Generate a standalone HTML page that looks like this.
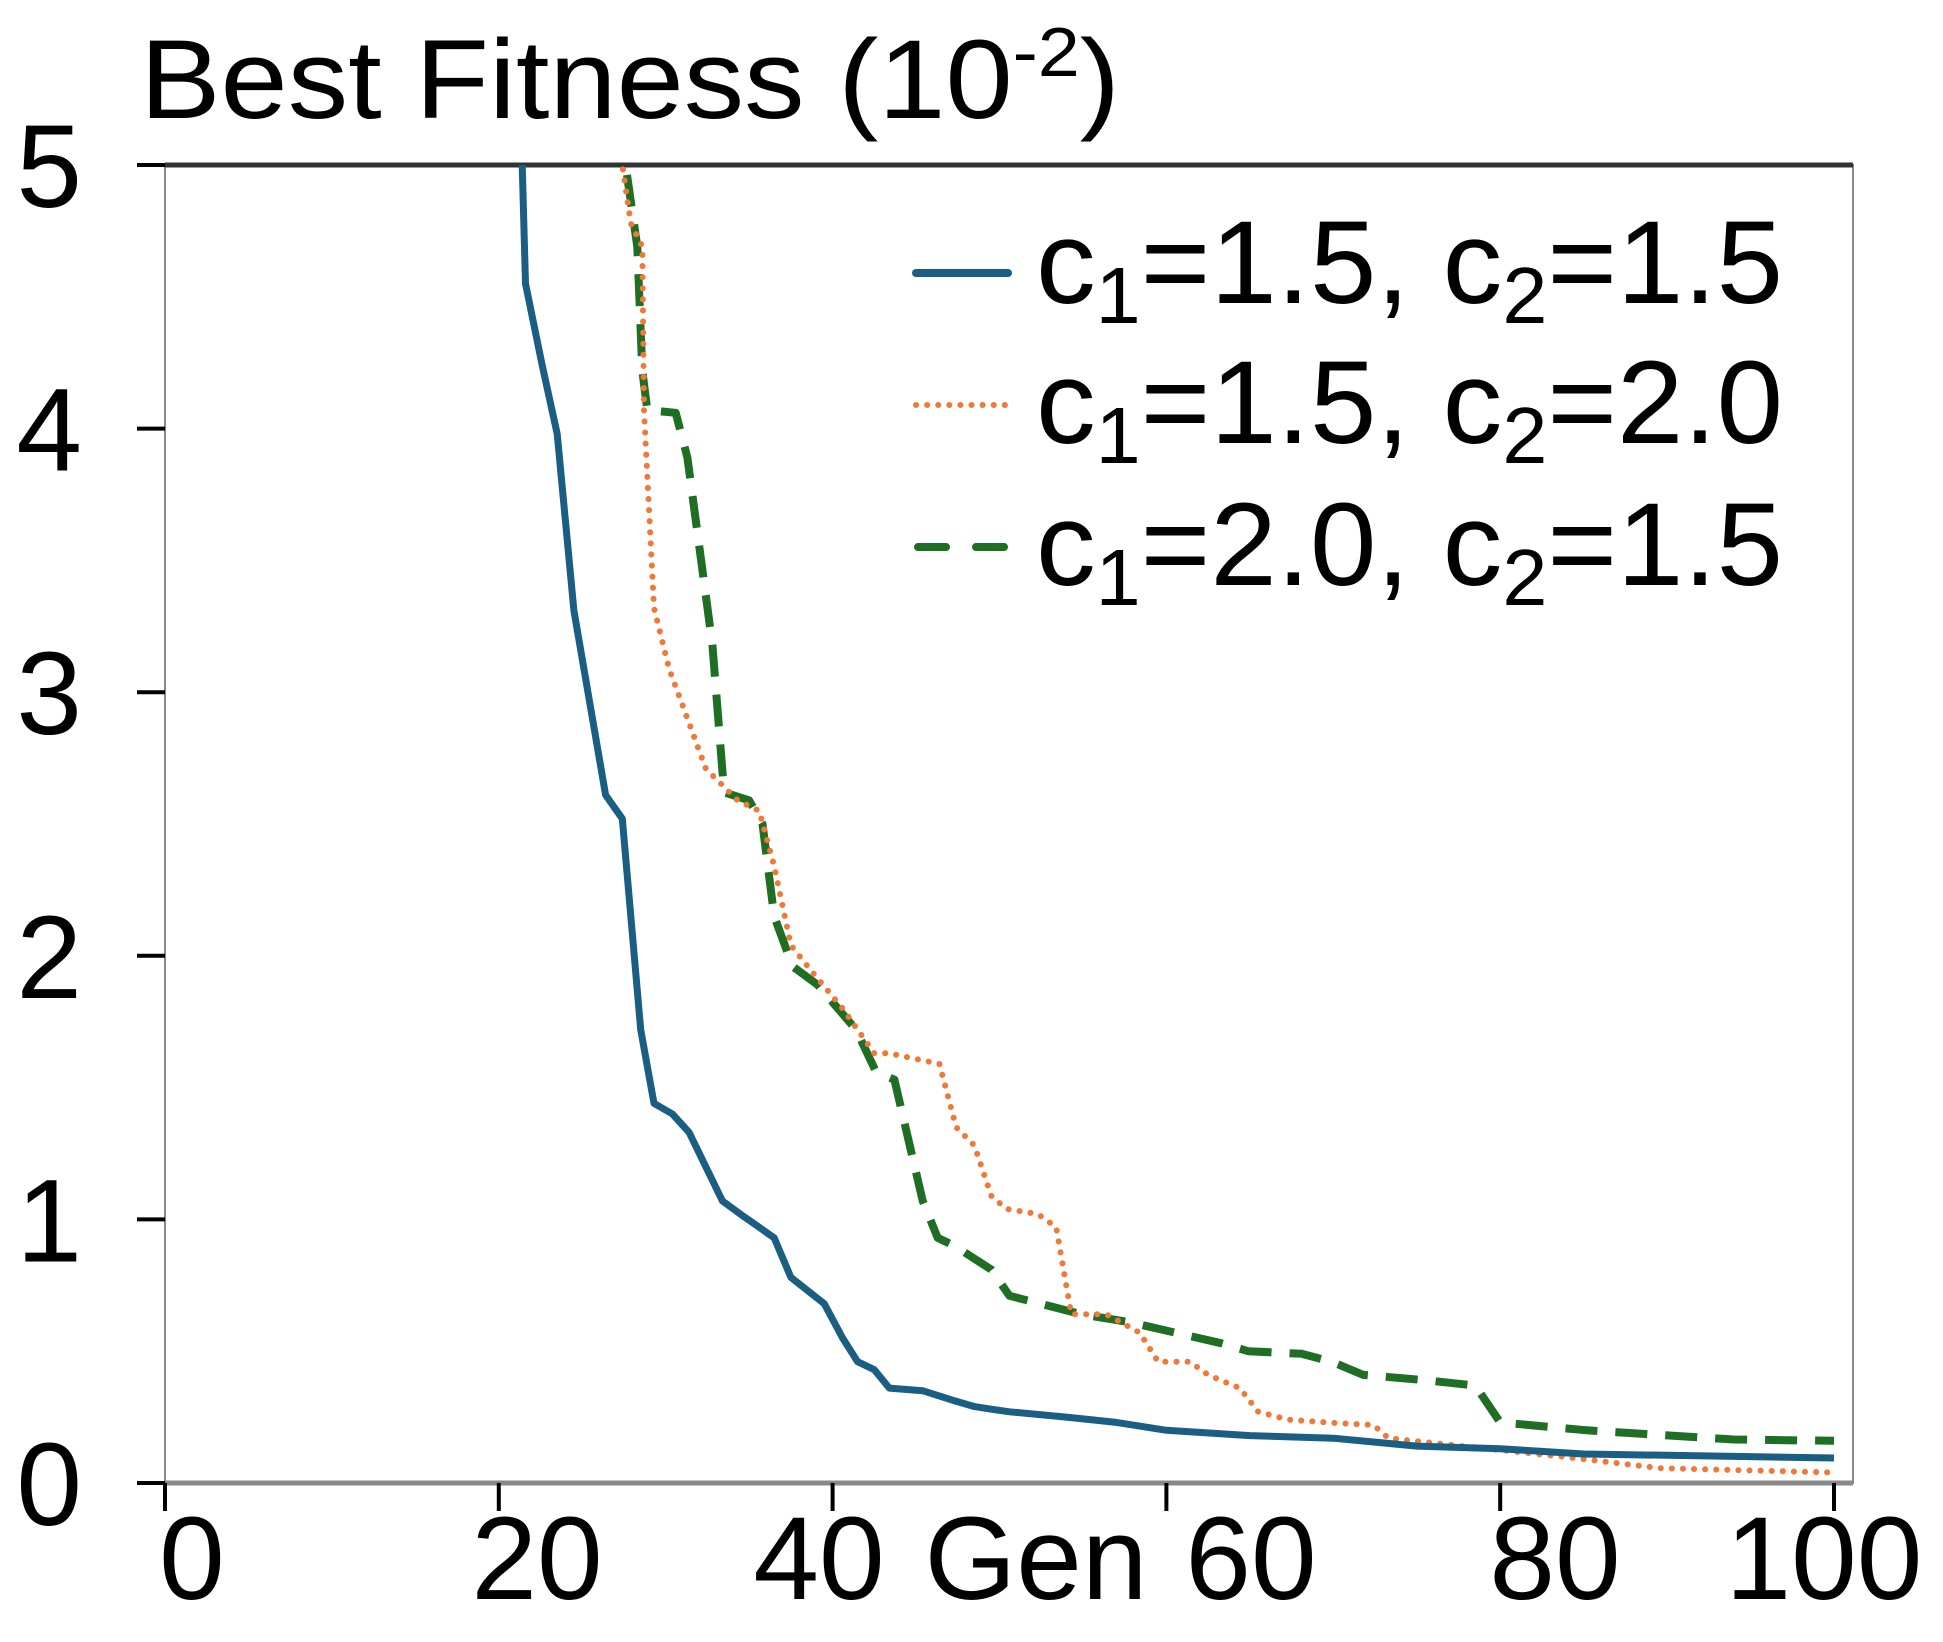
<!DOCTYPE html>
<html><head><meta charset="utf-8"><style>
html,body{margin:0;padding:0;background:#fff;}
svg{display:block;font-family:"Liberation Sans",Arial,sans-serif;}
</style></head><body>
<svg id="chart" width="1943" height="1642" viewBox="0 0 1943 1642" xmlns="http://www.w3.org/2000/svg">
<defs><clipPath id="plotclip"><rect x="165" y="165" width="1688" height="1318"/></clipPath></defs>
<rect x="0" y="0" width="1943" height="1642" fill="#fff"/>
<text x="140" y="118" font-size="112" textLength="980" lengthAdjust="spacingAndGlyphs">Best Fitness (10<tspan font-size="70" dy="-42">-2</tspan><tspan dy="42">)</tspan></text>
<g id="axes"></g>
<g id="series" clip-path="url(#plotclip)"></g>
<g id="legend">
 <g>
  <line x1="916" y1="273" x2="1008" y2="273" stroke="#1b5e83" stroke-width="8" stroke-linecap="round"/>
  <text x="1036" y="303" font-size="118" textLength="747" lengthAdjust="spacingAndGlyphs">c<tspan font-size="80" dy="20">1</tspan><tspan dy="-20">=1.5, c</tspan><tspan font-size="80" dy="20">2</tspan><tspan dy="-20">=1.5</tspan></text>
 </g>
 <g>
  <line x1="916" y1="405" x2="1008" y2="405" stroke="#f07838" stroke-width="6" stroke-dasharray="0.1 11" stroke-linecap="round"/>
  <text x="1036" y="443" font-size="118" textLength="747" lengthAdjust="spacingAndGlyphs">c<tspan font-size="80" dy="20">1</tspan><tspan dy="-20">=1.5, c</tspan><tspan font-size="80" dy="20">2</tspan><tspan dy="-20">=2.0</tspan></text>
 </g>
 <g>
  <line x1="918" y1="547" x2="1006" y2="547" stroke="#1e6e24" stroke-width="8" stroke-dasharray="28 30" stroke-linecap="round"/>
  <text x="1036" y="585" font-size="118" textLength="747" lengthAdjust="spacingAndGlyphs">c<tspan font-size="80" dy="20">1</tspan><tspan dy="-20">=2.0, c</tspan><tspan font-size="80" dy="20">2</tspan><tspan dy="-20">=1.5</tspan></text>
 </g>
</g>
</svg>
<script>
const xTicks = [0, 20, 40, 60, 80, 100];
const xTickLabels = ["0", "20", "40", "60", "80", "100"];
const yTicks = [0, 1, 2, 3, 4, 5];
const yTickLabels = ["0", "1", "2", "3", "4", "5"];
const blueX = [21.4,21.6,22.6,23.5,24.5,26.4,27.4,28.5,29.3,30.4,31.4,33.4,34.7,35.6,36.5,37.5,39.5,40.6,41.5,42.5,43.4,45.4,47.4,48.5,49.5,50.6,54,57,60,65,70,75,80,85,90,100];
const blueY = [5,4.55,4.24,3.98,3.31,2.61,2.52,1.72,1.44,1.40,1.33,1.07,1.01,0.97,0.93,0.78,0.68,0.55,0.46,0.43,0.36,0.35,0.31,0.29,0.28,0.27,0.25,0.23,0.20,0.18,0.17,0.14,0.13,0.11,0.105,0.095];
const orangeX = [27.4,27.9,28.6,28.7,29.3,30.2,32.4,34.3,35.6,36.5,37.5,38.5,40.6,42.5,43.4,46.4,47.4,48.5,49.5,50.4,52.3,53.4,54.3,56.4,58.4,59.5,61.4,62.5,64.4,65.5,67.3,69.6,72.4,73.3,79.2,83.7,89.6,100];
const orangeY = [5,4.78,4.69,4.07,3.32,3.09,2.71,2.59,2.55,2.34,2.04,1.96,1.80,1.63,1.63,1.59,1.35,1.28,1.09,1.04,1.02,0.97,0.64,0.64,0.57,0.46,0.46,0.41,0.36,0.27,0.24,0.23,0.22,0.17,0.13,0.10,0.056,0.04];
const greenX = [27.6,28.3,28.6,28.9,30.6,31.3,32.8,33.5,35.0,35.8,36.5,37.6,39.1,41.4,42.6,43.7,45.4,46.3,47.3,49.5,50.6,54.9,57.8,63.3,64.9,68.1,69.9,71.8,75.5,78.5,80,85.2,94,100];
const greenY = [5,4.69,4.22,4.07,4.06,3.89,3.18,2.62,2.59,2.50,2.15,1.96,1.89,1.72,1.56,1.53,1.07,0.93,0.90,0.81,0.71,0.64,0.61,0.53,0.50,0.49,0.46,0.41,0.39,0.37,0.23,0.20,0.165,0.16];

const NS = "http://www.w3.org/2000/svg";
const X0 = 165, X1 = 1834, YB = 1483, YT = 165, PR = 1853;
function xs(v){ return X0 + (v - 0) / 100 * (X1 - X0); }
function ys(v){ return YB - v / 5 * (YB - YT); }
function mk(tag, attrs, parent){ const e = document.createElementNS(NS, tag); for (const k in attrs) e.setAttribute(k, attrs[k]); parent.appendChild(e); return e; }

const axes = document.getElementById('axes');
let fr = mk('rect', {x:X0, y:YT, width:PR-X0, height:YB-YT, fill:'none', stroke:'#888', 'stroke-width':2}, axes);


let tl = mk('line', {x1:X0, y1:YT, x2:PR, y2:YT, stroke:'#333', 'stroke-width':5}, axes);


let bl = mk('line', {x1:X0, y1:YB, x2:PR, y2:YB, stroke:'#888', 'stroke-width':5}, axes);



const xLabelCenters = [192, 537, 819, 1251, 1555, 1824];
xTicks.forEach((t, i) => {
  const l = mk('line', {x1:xs(t), y1:YB, x2:xs(t), y2:YB+28, stroke:'#000', 'stroke-width':4}, axes);
  
  
  const tx = mk('text', {x:xLabelCenters[i], y:1599, 'font-size':118, 'text-anchor':'middle'}, axes);
  tx.textContent = xTickLabels[i];
  
  
});
const gen = mk('text', {x:1036, y:1599, 'font-size':118, 'text-anchor':'middle'}, axes);
gen.textContent = 'Gen';



yTicks.forEach((t, i) => {
  const l = mk('line', {x1:X0-28, y1:ys(t), x2:X0, y2:ys(t), stroke:'#000', 'stroke-width':4}, axes);
  
  
  const tx = mk('text', {x:82, y:ys(t)+42, 'font-size':118, 'text-anchor':'end'}, axes);
  tx.textContent = yTickLabels[i];
  
  
});

const series = document.getElementById('series');
function pts(X, Y){ let p = [[xs(X[0]), ys(Y[0]) - 40]]; X.forEach((x, i) => p.push([xs(x), ys(Y[i])])); return p.map(q => q[0].toFixed(1) + ',' + q[1].toFixed(1)).join(' '); }
const g = mk('polyline', {points:pts(greenX, greenY), fill:'none', stroke:'#1e6e24', 'stroke-width':8, 'stroke-dasharray':'32 18', 'stroke-linejoin':'round'}, series);


const o = mk('polyline', {points:pts(orangeX, orangeY), fill:'none', stroke:'#f07838', 'stroke-width':6, 'stroke-dasharray':'0.1 11', 'stroke-linecap':'round'}, series);


const b = mk('polyline', {points:pts(blueX, blueY), fill:'none', stroke:'#1b5e83', 'stroke-width':7, 'stroke-linejoin':'round'}, series);


</script>
</body></html>
